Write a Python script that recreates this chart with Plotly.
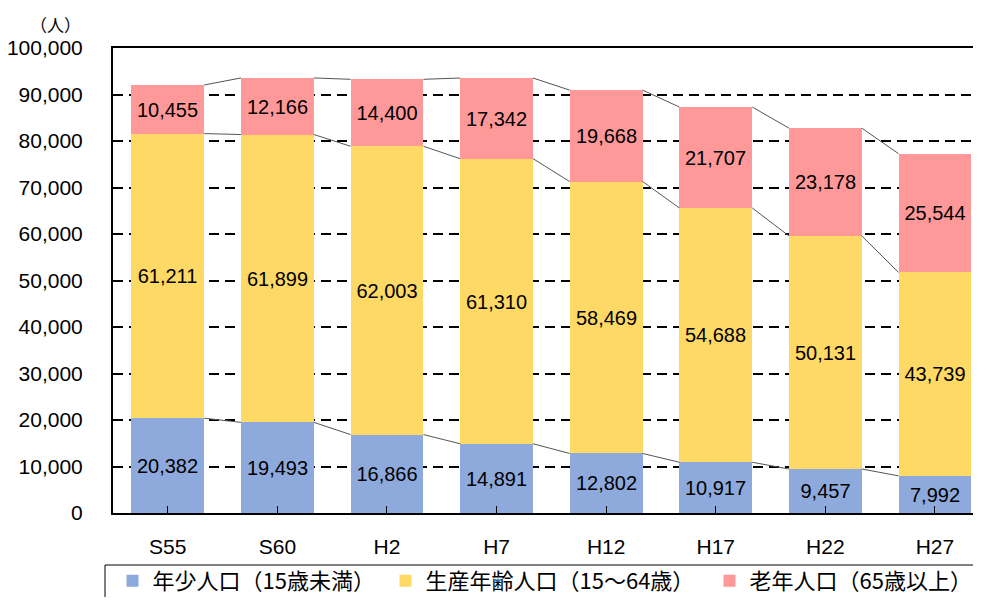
import numpy as np
import plotly.graph_objects as go

categories = ["S55", "S60", "H2", "H7", "H12", "H17", "H22", "H27"]
young = [20382, 19493, 16866, 14891, 12802, 10917, 9457, 7992]
working = [61211, 61899, 62003, 61310, 58469, 54688, 50131, 43739]
elderly = [10455, 12166, 14400, 17342, 19668, 21707, 23178, 25544]
series_names = ["年少人口（15歳未満）", "生産年齢人口（15～64歳）", "老年人口（65歳以上）"]
colors = ["#8EA9DB", "#FFD966", "#FF9999"]
legend_widths = [228, 279, None]

OFF = 8  # page body margin (both sides)
W, H = 981 - OFF, 605 - 2 * OFF
ML, MT = 113 - OFF, 48 - OFF
MR = 0
MB = H - (513 - OFF)
PW, PH = W - ML - MR, H - MT - MB
BAR_W = 0.665
x = np.arange(len(categories))


def px_x(p):  # screen px -> paper
    return (p - OFF - ML) / PW


def px_y(p):
    return (H - MB - (p - OFF)) / PH


fig = go.Figure()
for name, vals, col, lw in zip(series_names, [young, working, elderly], colors, legend_widths):
    kw = {}
    if lw:
        kw["legendwidth"] = lw
    fig.add_trace(go.Bar(
        x=x, y=vals, name=name, width=BAR_W,
        marker=dict(color=col, line=dict(width=0)),
        text=[f"{v:,}" for v in vals], textposition="inside",
        insidetextanchor="middle", constraintext="none",
        textfont=dict(family="Liberation Sans, Arial", size=20, color="black"),
        hoverinfo="skip", **kw,
    ))

# connector lines between bar segments
cum = np.cumsum(np.array([young, working, elderly]), axis=0)
for level in cum:
    xs, ys = [], []
    for i in range(len(categories) - 1):
        xs += [x[i] + BAR_W / 2, x[i + 1] - BAR_W / 2, None]
        ys += [level[i], level[i + 1], None]
    fig.add_trace(go.Scatter(x=xs, y=ys, mode="lines", showlegend=False,
                             line=dict(color="#555555", width=1), hoverinfo="skip"))

# legend frame (extends beyond bottom/right edges like the reference)
fig.add_shape(type="rect", xref="paper", yref="paper",
              x0=px_x(105), x1=px_x(1010), y0=px_y(565), y1=px_y(650),
              line=dict(color="black", width=1), fillcolor="white", layer="below")

fig.add_annotation(text="（人）", xref="paper", yref="paper",
                   x=px_x(55), y=px_y(25), xanchor="center", yanchor="middle",
                   showarrow=False, font=dict(family="Noto Sans CJK JP", size=17, color="black"))

fig.update_layout(
    width=W, height=H,
    margin=dict(l=ML, r=MR, t=MT, b=MB, pad=0, autoexpand=False),
    paper_bgcolor="white", plot_bgcolor="white",
    barmode="stack", bargap=0,
    showlegend=True,
    legend=dict(orientation="h", traceorder="normal",
                x=px_x(112.5), y=px_y(581), xanchor="left", yanchor="middle",
                font=dict(family="Noto Sans CJK JP", size=22, color="black"),
                bgcolor="rgba(0,0,0,0)", borderwidth=0),
    font=dict(family="Liberation Sans, Arial", color="black"),
)
fig.update_xaxes(
    range=[-0.5, 7.42], tickvals=x, ticktext=categories,
    tickmode="array", showgrid=False, zeroline=False,
    showline=True, linecolor="black", linewidth=2, mirror=True,
    ticks="inside", ticklen=7, tickwidth=1, tickcolor="black",
    tickfont=dict(family="Liberation Sans, Arial", size=21, color="black"),
    ticklabelstandoff=14, tickson="boundaries",
)
fig.update_yaxes(
    range=[0, 100000], dtick=10000, tick0=0, tickformat=",d",
    showgrid=True, gridcolor="black", gridwidth=2, griddash="10px,6px",
    zeroline=False, showline=True, linecolor="black", linewidth=2,
    ticks="inside", ticklen=10, tickwidth=2, tickcolor="black",
    tickfont=dict(family="Liberation Sans, Arial", size=21, color="black"),
    ticklabelstandoff=24,
)

fig.write_html("out.html")
